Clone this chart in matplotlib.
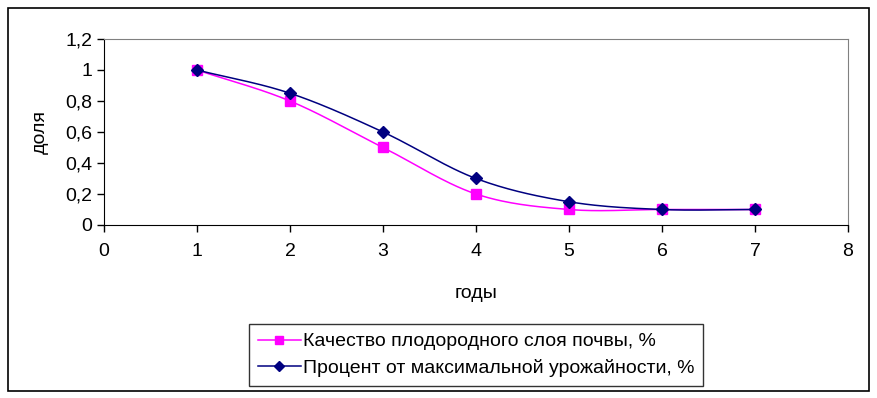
import numpy as np
import matplotlib
matplotlib.use("Agg")
import matplotlib.pyplot as plt
from matplotlib.patches import Rectangle

plt.rcParams['font.family'] = ['Liberation Sans', 'DejaVu Sans']

years = [1, 2, 3, 4, 5, 6, 7]
soil_quality = [1.0, 0.8, 0.5, 0.2, 0.1, 0.1, 0.1]
yield_pct = [1.0, 0.85, 0.6, 0.3, 0.15, 0.1, 0.1]
x_ticks = list(range(0, 9))
y_ticks = [0, 0.2, 0.4, 0.6, 0.8, 1.0, 1.2]
y_labels = ['0', '0,2', '0,4', '0,6', '0,8', '1', '1,2']
labels = ['Качество плодородного слоя почвы, %',
          'Процент от максимальной урожайности, %']


def smooth(x, y, n=30):
    # catmull-rom, roughly what excel does for "smoothed line"
    x = np.asarray(x, float)
    y = np.asarray(y, float)
    px = np.concatenate([[2 * x[0] - x[1]], x, [2 * x[-1] - x[-2]]])
    py = np.concatenate([[2 * y[0] - y[1]], y, [2 * y[-1] - y[-2]]])
    xs, ys = [], []
    t = np.linspace(0, 1, n)
    for i in range(1, len(px) - 2):
        for p, out in ((px, xs), (py, ys)):
            p0, p1, p2, p3 = p[i - 1], p[i], p[i + 1], p[i + 2]
            out.extend(0.5 * (2 * p1 + (-p0 + p2) * t
                              + (2 * p0 - 5 * p1 + 4 * p2 - p3) * t ** 2
                              + (-p0 + 3 * p1 - 3 * p2 + p3) * t ** 3))
    return xs, ys


fig = plt.figure(figsize=(8.78, 3.98), dpi=100)
fig.patches.append(Rectangle((8 / 878, 1 - 391 / 398), 861 / 878, 383 / 398,
                             transform=fig.transFigure, fill=False,
                             ec='black', lw=1.2))
ax = fig.add_axes([104 / 878, 1 - 225 / 398, 744 / 878, 186 / 398])

sx, sy = smooth(years, soil_quality)
ax.plot(sx, sy, color='#FF00FF', lw=1.1, zorder=3)
ax.plot(years, soil_quality, ls='none', marker='s', ms=7, color='#FF00FF', zorder=4)
yx, yy = smooth(years, yield_pct)
ax.plot(yx, yy, color='#000080', lw=1.1, zorder=5)
ax.plot(years, yield_pct, ls='none', marker='D', ms=6, color='#000080', zorder=6)

ax.set_xlim(0, 8)
ax.set_ylim(0, 1.2)
ax.set_xticks(x_ticks)
ax.set_yticks(y_ticks)
ax.set_yticklabels(y_labels)
ax.tick_params(labelsize=14, direction='out', length=5, width=1)
ax.tick_params(axis='x', pad=8)
for s in ['top', 'right']:
    ax.spines[s].set_color('#808080')
for s in ['left', 'bottom']:
    ax.spines[s].set_color('black')
ax.set_xlabel('годы', fontsize=14, labelpad=18)
ax.set_ylabel('доля', fontsize=14, labelpad=12)

h1 = plt.Line2D([], [], color='#FF00FF', marker='s', ms=6, lw=1.1)
h2 = plt.Line2D([], [], color='#000080', marker='D', ms=5, lw=1.1)
leg = fig.legend([h1, h2], labels, loc='center',
                 bbox_to_anchor=(476 / 878, 1 - 355 / 398), fontsize=14,
                 frameon=True, fancybox=False, edgecolor='black',
                 handlelength=2.2, handletextpad=0.1, borderpad=0.45,
                 labelspacing=0.45, borderaxespad=0)
leg.get_frame().set_linewidth(1.0)

fig.savefig('out.png', dpi=100)
